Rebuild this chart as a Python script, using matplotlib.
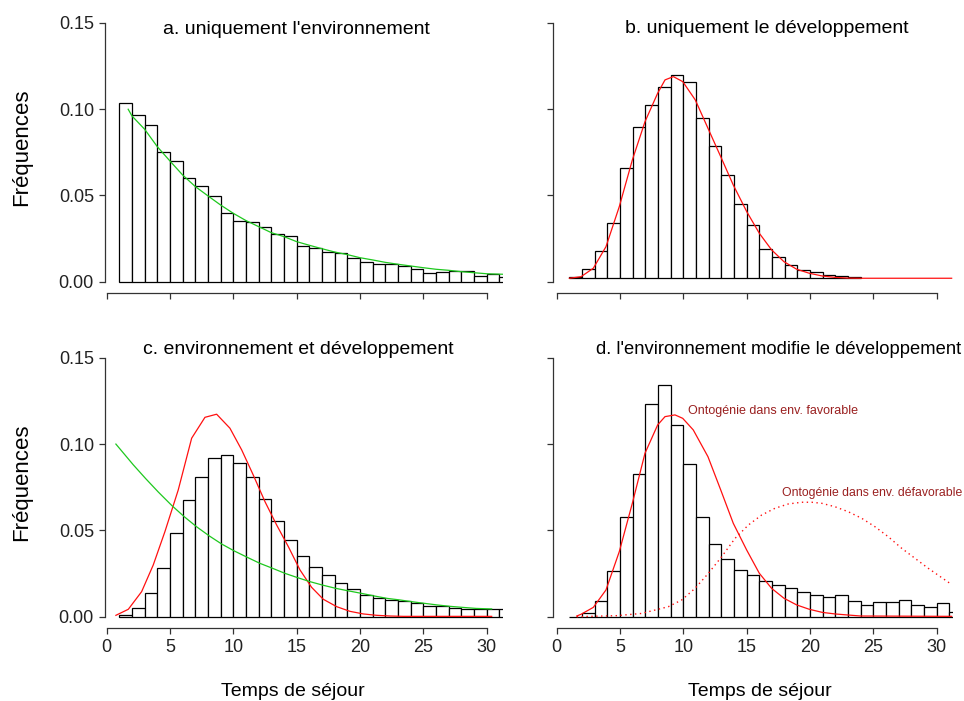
import matplotlib
matplotlib.use('Agg')
from matplotlib import pyplot as plt

plt.rcParams['font.family'] = ['Liberation Sans', 'DejaVu Sans']

# bin left edges (width 1) and bar tops
edges_a = list(range(1, 32))
freq_a = [0.1037, 0.0966, 0.0908, 0.0750, 0.0697, 0.0599, 0.0554, 0.0495, 0.0398, 0.0354,
          0.0348, 0.0317, 0.0274, 0.0265, 0.0205, 0.0197, 0.0174, 0.0166, 0.0137, 0.0116,
          0.0103, 0.0103, 0.0093, 0.0074, 0.0049, 0.0056, 0.0062, 0.0062, 0.0033, 0.0045,
          0.0025]

edges_b = list(range(1, 24))
freq_b = [0.0025, 0.0072, 0.0176, 0.0338, 0.0659, 0.0898, 0.1026, 0.1130, 0.1196, 0.1159,
          0.0950, 0.0786, 0.0616, 0.0450, 0.0327, 0.0191, 0.0145, 0.0097, 0.0066, 0.0056,
          0.0039, 0.0033, 0.0025]

edges_c = list(range(1, 32))
freq_c = [0.0010, 0.0050, 0.0136, 0.0284, 0.0487, 0.0676, 0.0811, 0.0919, 0.0939, 0.0892,
          0.0811, 0.0680, 0.0556, 0.0446, 0.0352, 0.0290, 0.0240, 0.0193, 0.0159, 0.0127,
          0.0108, 0.0099, 0.0093, 0.0081, 0.0060, 0.0060, 0.0052, 0.0046, 0.0045, 0.0043,
          0.0043]

edges_d = list(range(1, 32))
freq_d = [0.0, 0.0023, 0.0091, 0.0263, 0.0578, 0.0829, 0.1232, 0.1342, 0.1112, 0.0886,
          0.0578, 0.0421, 0.0332, 0.0271, 0.0243, 0.0207, 0.0182, 0.0164, 0.0141, 0.0127,
          0.0114, 0.0127, 0.0093, 0.0070, 0.0083, 0.0083, 0.0097, 0.0070, 0.0054, 0.0078,
          0.0029]

# fitted curves, points
env_a_x = [1.7, 2, 3, 4, 5, 6, 7, 8, 9, 10, 11, 12, 13, 14, 15, 16, 17, 18, 19, 20,
           21, 22, 23, 24, 25, 26, 27, 28, 29, 30, 31.3]
env_a_y = [0.0999, 0.0960, 0.0883, 0.0782, 0.0699, 0.0618, 0.0551, 0.0497, 0.0444, 0.0396,
           0.0354, 0.0319, 0.0284, 0.0261, 0.0232, 0.0211, 0.0191, 0.0172, 0.0157, 0.0139,
           0.0126, 0.0112, 0.0101, 0.0091, 0.0081, 0.0072, 0.0066, 0.0058, 0.0052, 0.0046,
           0.0043]

dev_b_x = [1.0, 1.92, 2.89, 3.89, 4.94, 5.97, 6.97, 7.97, 8.55, 9.21, 9.95, 10.94, 11.94,
           12.95, 13.94, 15.0, 16.0, 16.97, 17.94, 18.95, 19.94, 20.97, 21.97, 22.97, 24.0, 31.18]
dev_b_y = [0.0020, 0.0029, 0.0078, 0.0203, 0.0435, 0.0705, 0.0927, 0.1092, 0.1169, 0.1188,
           0.1159, 0.1053, 0.0889, 0.0724, 0.0560, 0.0406, 0.0280, 0.0184, 0.0116, 0.0072,
           0.0049, 0.0033, 0.0025, 0.0021, 0.0020, 0.0020]

dev_c_x = [0.73, 1.71, 2.76, 3.68, 4.60, 5.65, 6.71, 7.76, 8.68, 9.73, 10.66, 11.57, 12.50,
           13.42, 14.34, 15.26, 16.18, 17.10, 18.16, 19.21, 20.26, 21.31, 22.37, 23.42, 30.39]
dev_c_y = [0.0008, 0.0043, 0.0145, 0.0300, 0.0493, 0.0734, 0.1034, 0.1155, 0.1173, 0.1092,
           0.0966, 0.0821, 0.0666, 0.0531, 0.0406, 0.0271, 0.0170, 0.0101, 0.0058, 0.0031,
           0.0016, 0.0008, 0.0004, 0.0002, 0.0002]

env_c_x = [0.73, 2.10, 3.08, 4.08, 5.13, 6.13, 7.10, 8.10, 9.08, 10.07, 11.10, 12.10, 13.11,
           14.08, 15.08, 16.05, 17.10, 18.10, 19.13, 20.13, 21.13, 22.15, 23.15, 24.08, 25.13,
           26.10, 27.10, 28.11, 29.16, 30.39]
env_c_y = [0.1000, 0.0880, 0.0800, 0.0722, 0.0645, 0.0579, 0.0521, 0.0468, 0.0421, 0.0381,
           0.0344, 0.0309, 0.0280, 0.0251, 0.0226, 0.0203, 0.0182, 0.0164, 0.0149, 0.0135,
           0.0120, 0.0106, 0.0097, 0.0087, 0.0077, 0.0068, 0.0060, 0.0054, 0.0048, 0.0045]

fav_d_x = [1.58, 1.92, 2.89, 3.89, 4.94, 5.97, 6.97, 7.97, 8.55, 9.34, 9.95, 10.78, 11.94,
           12.95, 13.94, 15.0, 16.0, 16.97, 17.94, 18.95, 19.94, 20.97, 21.97, 22.97, 24.0, 31.18]
fav_d_y = [0.0004, 0.0014, 0.0054, 0.0155, 0.0377, 0.0657, 0.0947, 0.1111, 0.1159, 0.1169,
           0.1149, 0.1082, 0.0927, 0.0734, 0.0541, 0.0386, 0.0251, 0.0164, 0.0107, 0.0068,
           0.0043, 0.0025, 0.0016, 0.0010, 0.0004, 0.0002]

defav_d_x = [1.58, 4.73, 6.71, 8.81, 9.87, 10.92, 11.97, 13.03, 14.08, 15.13, 16.18, 17.23,
             18.28, 19.34, 20.13, 20.92, 21.97, 23.02, 24.08, 25.13, 26.18, 27.24, 28.29,
             29.34, 31.05]
defav_d_y = [0.0, 0.0006, 0.0019, 0.0058, 0.0097, 0.0164, 0.0251, 0.0348, 0.0454, 0.0531,
             0.0589, 0.0628, 0.0653, 0.0663, 0.0663, 0.0657, 0.0637, 0.0608, 0.0570, 0.0521,
             0.0463, 0.0396, 0.0338, 0.0280, 0.0193]

titles = ['a. uniquement l\'environnement', 'b. uniquement le développement',
          'c. environnement et développement', 'd. l\'environnement modifie le développement']
xticks = [0, 5, 10, 15, 20, 25, 30]
yticks = [0.00, 0.05, 0.10, 0.15]

green = '#1ec81e'
red = '#ff1010'

fig = plt.figure(figsize=(9.64, 7.01), dpi=100)
ax_a = fig.add_axes([0.10892, 0.58238, 0.4132, 0.39993])
ax_b = fig.add_axes([0.57396, 0.58238, 0.4148, 0.39993])
ax_c = fig.add_axes([0.10892, 0.10449, 0.4132, 0.39993])
ax_d = fig.add_axes([0.57396, 0.10449, 0.4148, 0.39993])
axes = [ax_a, ax_b, ax_c, ax_d]


def hist(ax, edges, tops, base=0.0):
    ax.bar(edges, [t - base for t in tops], width=1, bottom=base, align='edge',
           facecolor='white', edgecolor='black', linewidth=0.9, zorder=1)


hist(ax_a, edges_a, freq_a)
ax_a.plot(env_a_x, env_a_y, color=green, lw=0.9, zorder=3)

hist(ax_b, edges_b, freq_b, base=0.002)
ax_b.plot(dev_b_x, dev_b_y, color=red, lw=0.9, zorder=3)

hist(ax_c, edges_c, freq_c)
ax_c.plot(dev_c_x, dev_c_y, color=red, lw=0.9, zorder=3)
ax_c.plot(env_c_x, env_c_y, color=green, lw=0.9, zorder=3)

hist(ax_d, edges_d, freq_d)
ax_d.plot(fav_d_x, fav_d_y, color=red, lw=0.9, zorder=3)
ax_d.plot(defav_d_x, defav_d_y, color=red, lw=1.0, ls=(0, (1, 2.5)), zorder=3)
ax_d.text(10.37, 0.1193, 'Ontogénie dans env. favorable', color='#9a2020',
          fontsize=9, va='center', ha='left')
ax_d.text(17.76, 0.0718, 'Ontogénie dans env. défavorable', color='#9a2020',
          fontsize=8.8, va='center', ha='left', clip_on=False)

ax_a.text(15.0, 0.1462, titles[0], ha='center', va='center', fontsize=14)
ax_b.text(16.6, 0.1468, titles[1], ha='center', va='center', fontsize=14)
ax_c.text(15.1, 0.1545, titles[2], ha='center', va='center', fontsize=14)
ax_d.text(17.5, 0.1550, titles[3], ha='center', va='center', fontsize=13.2, clip_on=False)

for i, ax in enumerate(axes):
    left_col = i in (0, 2)
    ax.set_xlim(-0.13 if left_col else -0.27, 31.31 if left_col else 31.3)
    ax.set_ylim(-0.0064, 0.156)
    ax.spines['top'].set_visible(False)
    ax.spines['right'].set_visible(False)
    ax.spines['left'].set_bounds(0, 0.15)
    ax.spines['bottom'].set_bounds(0, 30)
    for s in ('left', 'bottom'):
        ax.spines[s].set_color('#333333')
        ax.spines[s].set_linewidth(0.9)
    ax.set_xticks(xticks)
    ax.set_yticks(yticks)
    ax.tick_params(direction='out', length=4, width=0.9, color='#333333',
                   labelsize=13, labelcolor='#222222', pad=4)
    ax.patch.set_alpha(0)
    if left_col:
        ax.set_yticklabels(['0.00', '0.05', '0.10', '0.15'])
        ax.set_ylabel('Fréquences', fontsize=16)
        ax.yaxis.set_label_coords(-0.184, 0.52)
    else:
        ax.set_yticklabels([])
    if i >= 2:
        ax.set_xticklabels([str(t) for t in xticks])
        ax.set_xlabel('Temps de séjour', fontsize=14)
        ax.xaxis.set_label_coords(0.4706 if left_col else 0.517, -0.197)
    else:
        ax.set_xticklabels([])

fig.savefig('out.png', dpi=100)
